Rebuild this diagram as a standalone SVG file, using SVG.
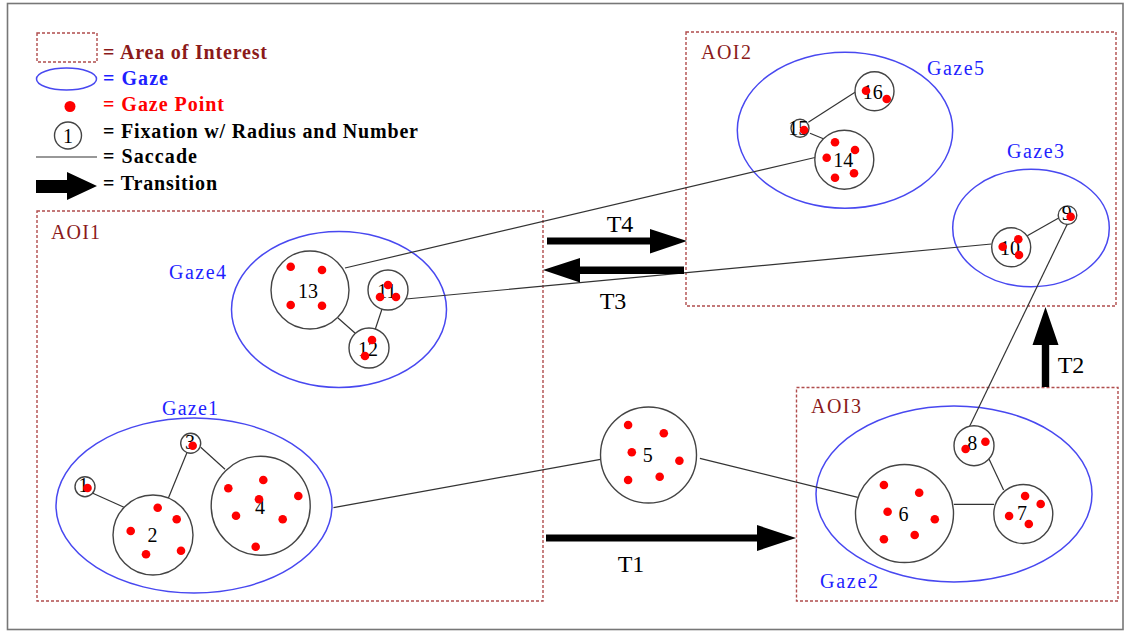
<svg xmlns="http://www.w3.org/2000/svg" width="1125" height="632" viewBox="0 0 1125 632">
<style>
.aoi{fill:none;stroke:#b04c4c;stroke-width:1.4;stroke-dasharray:3 2}
.gaze{fill:none;stroke:#4848f0;stroke-width:1.5}
.fix{fill:#fff;stroke:#444;stroke-width:1.4}
.pt{fill:#f00}
.sac{stroke:#333;stroke-width:1.2;fill:none}
.tr{fill:#000}
text{font-family:"Liberation Serif","Times New Roman",serif}
.num{font-size:20px;fill:#000;text-anchor:middle}
.aoil{font-size:20px;fill:#8b1a1a}
.gazel{font-size:20px;fill:#1f1fff}
.tl{font-size:24px;fill:#000;text-anchor:middle}
.leg{font-size:20px;font-weight:bold}
</style>
<rect x="0" y="0" width="1125" height="632" fill="#fff"/>
<rect x="7.5" y="3.5" width="1115.5" height="626" fill="none" stroke="#777" stroke-width="1.6"/>

<g id="legend">
  <rect class="aoi" x="37" y="33" width="60" height="29"/>
  <text class="leg" x="103" y="59" fill="#8b1a1a" textLength="164" lengthAdjust="spacing">= Area of Interest</text>
  <ellipse class="gaze" cx="66.5" cy="79" rx="30" ry="11"/>
  <text class="leg" x="103" y="85" fill="#1f1fff" textLength="65" lengthAdjust="spacing">= Gaze</text>
  <circle class="pt" cx="70" cy="106.5" r="5.5"/>
  <text class="leg" x="103" y="111" fill="#f00" textLength="121" lengthAdjust="spacing">= Gaze Point</text>
  <circle class="fix" cx="68" cy="135.5" r="13.5"/>
  <text class="num" x="68" y="143">1</text>
  <text class="leg" x="103" y="137.7" fill="#000" textLength="315" lengthAdjust="spacing">= Fixation w/ Radius and Number</text>
  <line class="sac" x1="36" y1="157" x2="97" y2="157"/>
  <text class="leg" x="103" y="163" fill="#000" textLength="94" lengthAdjust="spacing">= Saccade</text>
  <polygon class="tr" points="36,180 67,180 67,172 97,186 67,200 67,193 36,193"/>
  <text class="leg" x="103" y="190" fill="#000" textLength="114" lengthAdjust="spacing">= Transition</text>
</g>

<g id="AOI1">
  <rect class="aoi" x="37" y="211" width="506" height="390"/>
  <text class="aoil" x="51" y="239" textLength="49" lengthAdjust="spacing">AOI1</text>
</g>
<g id="AOI2">
  <rect class="aoi" x="686" y="32" width="430" height="274"/>
  <text class="aoil" x="701" y="59" textLength="50" lengthAdjust="spacing">AOI2</text>
</g>
<g id="AOI3">
  <rect class="aoi" x="796.5" y="387.5" width="321.5" height="213.5"/>
  <text class="aoil" x="811" y="413" textLength="50" lengthAdjust="spacing">AOI3</text>
</g>

<g id="Gaze1">
  <ellipse class="gaze" cx="194" cy="505.5" rx="138" ry="87.5"/>
  <text class="gazel" x="162" y="415" textLength="56" lengthAdjust="spacing">Gaze1</text>
</g>
<g id="Gaze2">
  <ellipse class="gaze" cx="954" cy="494" rx="138" ry="88"/>
  <text class="gazel" x="820" y="588" textLength="58" lengthAdjust="spacing">Gaze2</text>
</g>
<g id="Gaze3">
  <ellipse class="gaze" cx="1031" cy="228" rx="78.3" ry="58.7"/>
  <text class="gazel" x="1007" y="158" textLength="57" lengthAdjust="spacing">Gaze3</text>
</g>
<g id="Gaze4">
  <ellipse class="gaze" cx="339" cy="309.5" rx="107.5" ry="78"/>
  <text class="gazel" x="169" y="279" textLength="57" lengthAdjust="spacing">Gaze4</text>
</g>
<g id="Gaze5">
  <ellipse class="gaze" cx="845" cy="130.3" rx="107.7" ry="78"/>
  <text class="gazel" x="927" y="75" textLength="57" lengthAdjust="spacing">Gaze5</text>
</g>

<g id="connectors">
  <line class="sac" x1="91.7" y1="492.7" x2="124" y2="507.3"/>
  <line class="sac" x1="168.3" y1="498.3" x2="187.3" y2="451.7"/>
  <line class="sac" x1="200.7" y1="447.3" x2="225" y2="469.3"/>
  <line class="sac" x1="333.5" y1="507.7" x2="600.5" y2="459.3"/>
  <line class="sac" x1="699.9" y1="458.3" x2="857.8" y2="497.3"/>
  <line class="sac" x1="953.8" y1="504.3" x2="994" y2="504.3"/>
  <line class="sac" x1="989" y1="459" x2="1003.6" y2="490"/>
  <line class="sac" x1="969.4" y1="426.7" x2="1067.7" y2="223.3"/>
  <line class="sac" x1="1027.3" y1="235.7" x2="1060" y2="217.3"/>
  <line class="sac" x1="406" y1="299" x2="991.5" y2="244"/>
  <line class="sac" x1="382" y1="309" x2="375" y2="330"/>
  <line class="sac" x1="338" y1="318" x2="355" y2="333"/>
  <line class="sac" x1="345" y1="268" x2="815" y2="157.5"/>
  <line class="sac" x1="810" y1="133.3" x2="824" y2="139"/>
  <line class="sac" x1="855" y1="92.3" x2="808.3" y2="122.3"/>
  <polygon class="tr" points="546,534.5 757,534.5 757,525 796,538 757,551 757,541.5 546,541.5"/>
  <polygon class="tr" points="1041.8,387 1041.8,345 1032.5,345 1045.5,307 1058.5,345 1049.2,345 1049.2,387"/>
  <polygon class="tr" points="547,237.5 650,237.5 650,229 687,241 650,253.5 650,244.5 547,244.5"/>
  <polygon class="tr" points="684,266.5 580,266.5 580,258 543,270 580,282.5 580,274 684,274"/>
  <text class="tl" x="620" y="232">T4</text>
  <text class="tl" x="613" y="309">T3</text>
  <text class="tl" x="631" y="572">T1</text>
  <text class="tl" x="1071" y="373">T2</text>
</g>

<g id="F1">
  <circle class="fix" cx="85" cy="486.7" r="10"/>
  <text class="num" x="83.5" y="492">1</text>
  <circle class="pt" cx="87.5" cy="488" r="4.3"/>
</g>
<g id="F2">
  <circle class="fix" cx="153" cy="535" r="40"/>
  <text class="num" x="152.5" y="542">2</text>
  <circle class="pt" cx="157.7" cy="507.7" r="4.3"/>
  <circle class="pt" cx="176.7" cy="519.3" r="4.3"/>
  <circle class="pt" cx="130.7" cy="531" r="4.3"/>
  <circle class="pt" cx="146" cy="554.3" r="4.3"/>
  <circle class="pt" cx="181" cy="550.7" r="4.3"/>
</g>
<g id="F3">
  <circle class="fix" cx="190.7" cy="443.3" r="10"/>
  <text class="num" x="190" y="448.5">3</text>
  <circle class="pt" cx="192.7" cy="445.7" r="4.3"/>
</g>
<g id="F4">
  <circle class="fix" cx="260.7" cy="505.7" r="49.5"/>
  <text class="num" x="260" y="513.5">4</text>
  <circle class="pt" cx="228.3" cy="488.3" r="4.3"/>
  <circle class="pt" cx="263.3" cy="480" r="4.3"/>
  <circle class="pt" cx="298.3" cy="496" r="4.3"/>
  <circle class="pt" cx="259" cy="499.3" r="4.3"/>
  <circle class="pt" cx="236" cy="515.7" r="4.3"/>
  <circle class="pt" cx="282.7" cy="519.3" r="4.3"/>
  <circle class="pt" cx="255.7" cy="546.7" r="4.3"/>
</g>
<g id="F5">
  <circle class="fix" cx="648.5" cy="455" r="48"/>
  <text class="num" x="647.8" y="462">5</text>
  <circle class="pt" cx="628.1" cy="425" r="4.3"/>
  <circle class="pt" cx="663.8" cy="433.3" r="4.3"/>
  <circle class="pt" cx="631.8" cy="452.3" r="4.3"/>
  <circle class="pt" cx="679.4" cy="460.7" r="4.3"/>
  <circle class="pt" cx="628.1" cy="480" r="4.3"/>
  <circle class="pt" cx="659.7" cy="476.7" r="4.3"/>
</g>
<g id="F6">
  <circle class="fix" cx="904.5" cy="513.5" r="49"/>
  <text class="num" x="903.6" y="521">6</text>
  <circle class="pt" cx="883.9" cy="485" r="4.3"/>
  <circle class="pt" cx="919.2" cy="492.7" r="4.3"/>
  <circle class="pt" cx="887.6" cy="511.7" r="4.3"/>
  <circle class="pt" cx="934.8" cy="519.3" r="4.3"/>
  <circle class="pt" cx="883.9" cy="539.3" r="4.3"/>
  <circle class="pt" cx="914.7" cy="535" r="4.3"/>
</g>
<g id="F7">
  <circle class="fix" cx="1023.3" cy="514" r="29.5"/>
  <text class="num" x="1022" y="520">7</text>
  <circle class="pt" cx="1025.1" cy="496" r="4.3"/>
  <circle class="pt" cx="1040.7" cy="504" r="4.3"/>
  <circle class="pt" cx="1009.1" cy="516" r="4.3"/>
  <circle class="pt" cx="1028.8" cy="524" r="4.3"/>
</g>
<g id="F8">
  <circle class="fix" cx="974" cy="445.7" r="20"/>
  <text class="num" x="972.3" y="450">8</text>
  <circle class="pt" cx="985.4" cy="441.7" r="4.3"/>
  <circle class="pt" cx="965.6" cy="449" r="4.3"/>
</g>
<g id="F9">
  <circle class="fix" cx="1067.5" cy="215.2" r="9.3"/>
  <text class="num" x="1066.7" y="220">9</text>
  <circle class="pt" cx="1070.7" cy="216.7" r="4.3"/>
</g>
<g id="F10">
  <circle class="fix" cx="1011.2" cy="247.3" r="19.5"/>
  <text class="num" x="1010" y="255">10</text>
  <circle class="pt" cx="1018.3" cy="239.3" r="4.3"/>
  <circle class="pt" cx="1002.7" cy="246.7" r="4.3"/>
  <circle class="pt" cx="1019" cy="255" r="4.3"/>
</g>
<g id="F11">
  <circle class="fix" cx="388" cy="290" r="20"/>
  <text class="num" x="387" y="297.7">11</text>
  <circle class="pt" cx="388" cy="285" r="4.3"/>
  <circle class="pt" cx="380" cy="297" r="4.3"/>
  <circle class="pt" cx="396" cy="297" r="4.3"/>
</g>
<g id="F12">
  <circle class="fix" cx="369" cy="348" r="20"/>
  <text class="num" x="368" y="355.7">12</text>
  <circle class="pt" cx="372" cy="340" r="4.3"/>
  <circle class="pt" cx="365" cy="356" r="4.3"/>
</g>
<g id="F13">
  <circle class="fix" cx="310" cy="290" r="39"/>
  <text class="num" x="308" y="298">13</text>
  <circle class="pt" cx="290.7" cy="266.7" r="4.3"/>
  <circle class="pt" cx="322" cy="270" r="4.3"/>
  <circle class="pt" cx="290.7" cy="305" r="4.3"/>
  <circle class="pt" cx="322" cy="305.7" r="4.3"/>
</g>
<g id="F14">
  <circle class="fix" cx="844.3" cy="159.7" r="29.5"/>
  <text class="num" x="843.3" y="166.7">14</text>
  <circle class="pt" cx="835" cy="142.3" r="4.3"/>
  <circle class="pt" cx="855" cy="150" r="4.3"/>
  <circle class="pt" cx="826.7" cy="157.7" r="4.3"/>
  <circle class="pt" cx="835" cy="177.7" r="4.3"/>
  <circle class="pt" cx="854" cy="173.3" r="4.3"/>
</g>
<g id="F15">
  <circle class="fix" cx="800" cy="128.3" r="9"/>
  <text class="num" x="798.3" y="135">15</text>
  <circle class="pt" cx="804" cy="130" r="4.3"/>
</g>
<g id="F16">
  <circle class="fix" cx="874.5" cy="91.3" r="19.5"/>
  <text class="num" x="872.7" y="99">16</text>
  <circle class="pt" cx="866" cy="90.7" r="4.3"/>
  <circle class="pt" cx="886.7" cy="99" r="4.3"/>
</g>
</svg>
